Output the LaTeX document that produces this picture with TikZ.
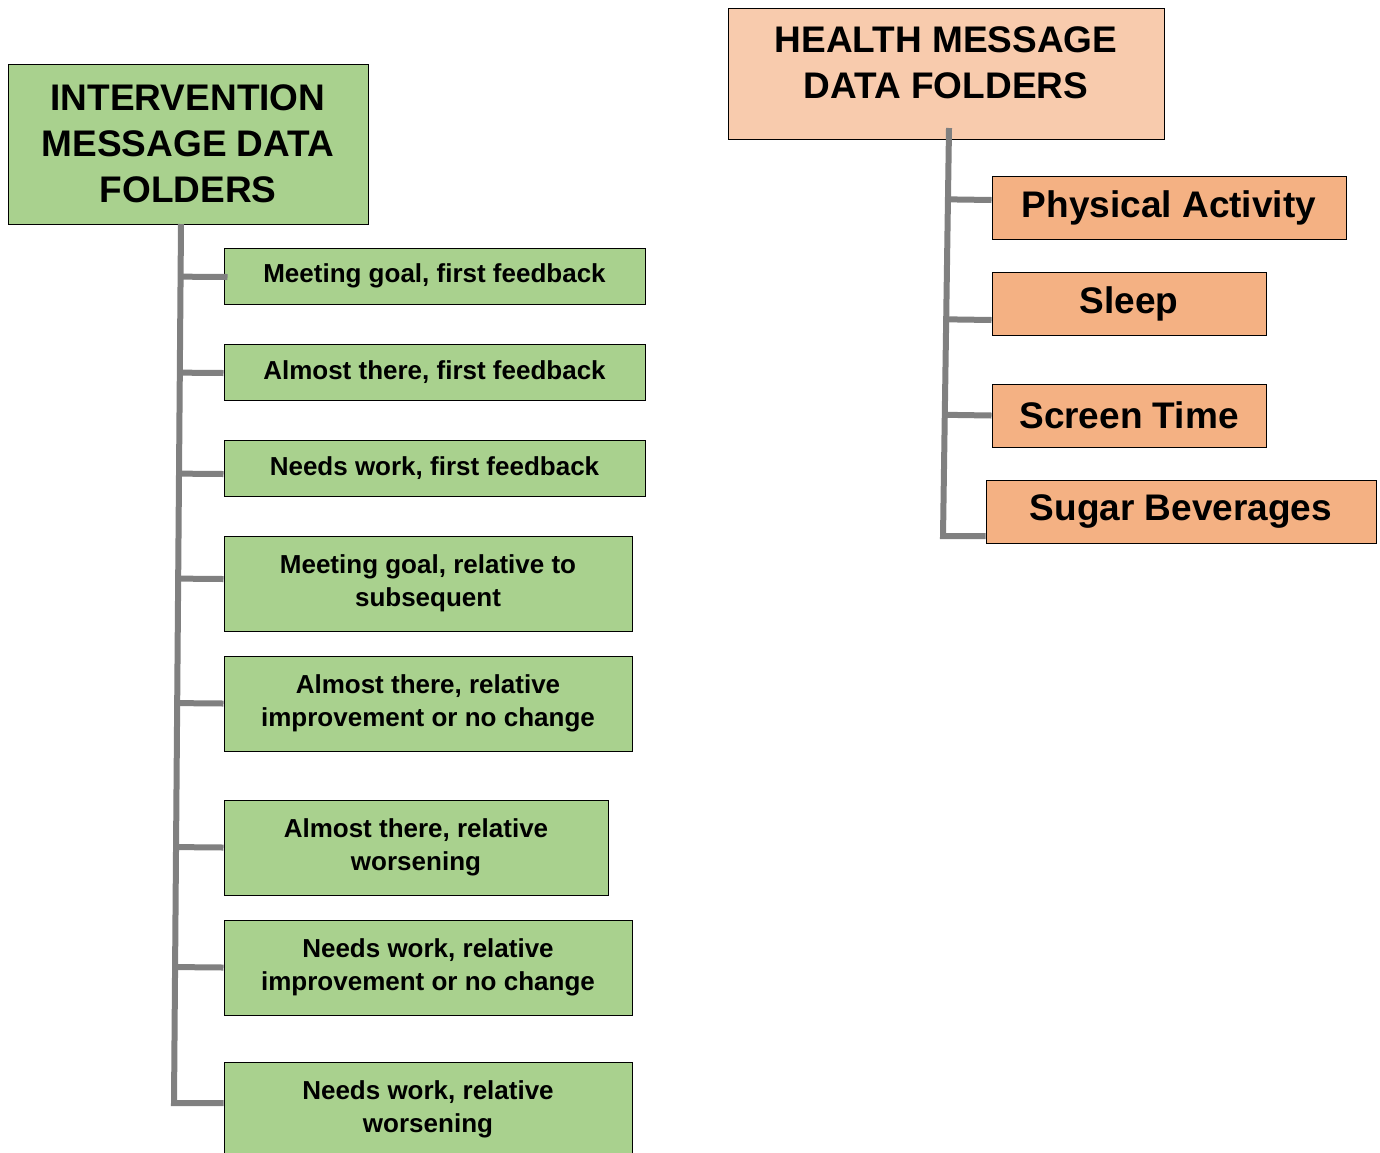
\documentclass[tikz,border=0pt]{standalone}
\usepackage{fontspec}
\setmainfont{Liberation Sans}
\usetikzlibrary{calc}

\definecolor{leafgreen}{HTML}{A9D18E}
\definecolor{headpeach}{HTML}{F8CBAD}
\definecolor{boxpeach}{HTML}{F4B183}
\definecolor{stemgray}{HTML}{808080}

\begin{document}
\begin{tikzpicture}[x=1pt, y=-1pt,
  % Node styles
  hdr/.style={draw, line width=1pt, align=center, inner sep=0pt,
              font=\fontsize{37}{46}\selectfont\bfseries},
  msg/.style={draw, line width=1pt, fill=leafgreen, align=center, inner sep=0pt,
              font=\fontsize{26}{33}\selectfont\bfseries},
  topic/.style={draw, line width=1pt, fill=boxpeach, align=center, inner sep=0pt,
                minimum height=63pt, font=\fontsize{37}{44}\selectfont\bfseries},
  % Connector style
  stem/.style={draw=stemgray, line width=6pt},
]
\useasboundingbox (0,0) rectangle (1380,1152);

% === Left: intervention folders ===
\node[hdr, fill=leafgreen, minimum width=360pt, minimum height=160pt] (IH) at (188,144)
  {INTERVENTION\\MESSAGE DATA\\FOLDERS};

\node[msg, minimum width=421pt, minimum height=56pt] (MG1) at (434.5,276) {Meeting goal, first feedback};
\node[msg, minimum width=421pt, minimum height=56pt] (AT1) at (434.5,372) {Almost there, first feedback};
\node[msg, minimum width=421pt, minimum height=56pt] (NW1) at (434.5,468) {Needs work, first feedback};
\node[msg, minimum width=408pt, minimum height=95pt] (MGR) at (428,583.5) {Meeting goal, relative to\\subsequent};
\node[msg, minimum width=408pt, minimum height=95pt] (ATI) at (428,703.5) {Almost there, relative\\improvement or no change};
\node[msg, minimum width=384pt, minimum height=95pt] (ATW) at (416,847.5) {Almost there, relative\\worsening};
\node[msg, minimum width=408pt, minimum height=95pt] (NWI) at (428,967.5) {Needs work, relative\\improvement or no change};
\node[msg, minimum width=408pt, minimum height=95pt] (NWW) at (428,1109.5) {Needs work, relative\\worsening};

% === Right: health folders ===
\node[hdr, fill=headpeach, minimum width=436pt, minimum height=131pt, text depth=22pt] (HH) at (946,73.5)
  {HEALTH MESSAGE\\DATA FOLDERS};

\node[topic, minimum width=354pt] (PA) at (1169,207.5) {Physical Activity};
\node[topic, minimum width=274pt] (SL) at (1129,303.5) {Sleep};
\node[topic, minimum width=274pt] (ST) at (1129,415.5) {Screen Time};
\node[topic, minimum width=390pt] (SB) at (1181,511.5) {Sugar Beverages};

% === Left tree ===
\coordinate (ltop) at (181,224);
\coordinate (lbot) at (174,1103);
\draw[stem] (ltop) -- (lbot) -- ([yshift=6.5pt]NWW.west);
\draw[stem] ($(ltop)!([yshift=-1pt]MG1.west)!(lbot)$) -- ([xshift=4pt,yshift=-1pt]MG1.west);
\draw[stem] ($(ltop)!([yshift=-1pt]AT1.west)!(lbot)$) -- ([yshift=-1pt]AT1.west);
\draw[stem] ($(ltop)!([yshift=-6pt]NW1.west)!(lbot)$) -- ([yshift=-6pt]NW1.west);
\draw[stem] ($(ltop)!([yshift=4.5pt]MGR.west)!(lbot)$) -- ([yshift=4.5pt]MGR.west);
\draw[stem] ($(ltop)!(ATI.west)!(lbot)$) -- (ATI.west);
\draw[stem] ($(ltop)!(ATW.west)!(lbot)$) -- (ATW.west);
\draw[stem] ($(ltop)!(NWI.west)!(lbot)$) -- (NWI.west);

% === Right tree ===
\coordinate (rtop) at (949,128);
\coordinate (rbot) at (943,536);
\draw[stem] (rtop) -- (rbot) -- ([yshift=-24.5pt]SB.west);
\draw[stem] ($(rtop)!([yshift=7.5pt]PA.west)!(rbot)$) -- ([yshift=7.5pt]PA.west);
\draw[stem] ($(rtop)!([yshift=-16.5pt]SL.west)!(rbot)$) -- ([yshift=-16.5pt]SL.west);
\draw[stem] ($(rtop)!(ST.west)!(rbot)$) -- (ST.west);

\end{tikzpicture}
\end{document}
